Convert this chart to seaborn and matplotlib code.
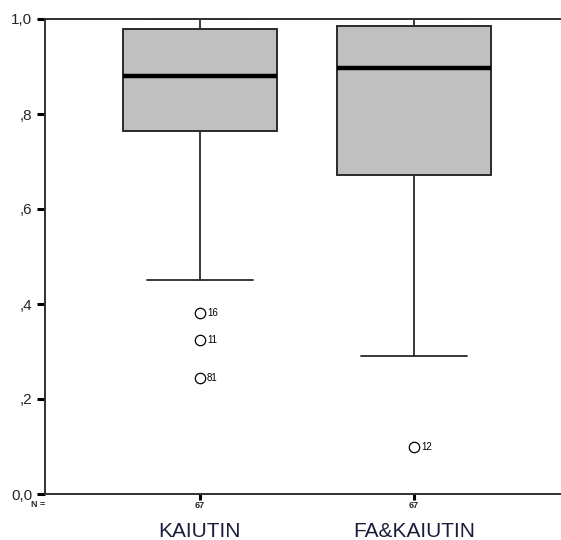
import seaborn as sns
import matplotlib.pyplot as plt
import matplotlib.transforms as mtransforms

# summary values
groups = ["KAIUTIN", "FA&KAIUTIN"]
n_cases = [67, 67]
whis_low = [0.451, 0.291]
q1 = [0.764, 0.672]
median = [0.880, 0.897]
q3 = [0.979, 0.985]
whis_high = [1.0, 1.0]
outliers = [[0.381, 0.324, 0.244], [0.099]]
outlier_ids = [["16", "11", "81"], ["12"]]

sns.set_theme(style="white")
plt.rcParams['font.family'] = ['Liberation Sans', 'DejaVu Sans']

fig = plt.figure(figsize=(5.61, 5.40), dpi=100)
ax = fig.add_axes([45 / 561, 1 - 494 / 540, 1 - 45 / 561, (494 - 19) / 540])

stats = []
for i in range(len(groups)):
    stats.append({"whislo": whis_low[i], "q1": q1[i], "med": median[i],
                  "q3": q3[i], "whishi": whis_high[i], "fliers": outliers[i]})

pos = [1, 2]
ax.bxp(stats, positions=pos, widths=0.72, patch_artist=True,
       capwidths=0.495,
       boxprops=dict(facecolor="#c0c0c0", edgecolor="#2a2a2a", linewidth=1.4),
       medianprops=dict(color="black", linewidth=3.2, solid_capstyle="butt"),
       whiskerprops=dict(color="#2a2a2a", linewidth=1.3),
       capprops=dict(color="#2a2a2a", linewidth=1.3),
       flierprops=dict(marker="o", markersize=7.5, markerfacecolor="white",
                       markeredgecolor="black", markeredgewidth=0.9))

# outlier case numbers
for i, (vals, ids) in enumerate(zip(outliers, outlier_ids)):
    for v, lab in zip(vals, ids):
        ax.annotate(lab, (pos[i], v), xytext=(5, 0), textcoords="offset points",
                    fontsize=7, va="center", ha="left", color="black")

ax.set_xlim(0.2757, 2.687)
ax.set_ylim(0, 1)
ax.set_yticks([0, 0.2, 0.4, 0.6, 0.8, 1.0])
ax.set_yticklabels(["0,0", ",2", ",4", ",6", ",8", "1,0"], fontsize=11)
ax.set_xticks(pos)
ax.set_xticklabels([str(n) for n in n_cases], fontsize=6.5, fontweight="bold")

ax.tick_params(axis="y", direction="out", length=6, width=2.2, color="black",
               pad=3, left=True)
ax.tick_params(axis="x", direction="out", length=4, width=2.2, color="black",
               pad=1, bottom=True)

for side in ["left", "top", "bottom"]:
    ax.spines[side].set_color("#303030")
    ax.spines[side].set_linewidth(1.4)
ax.spines["right"].set_visible(False)

trans = mtransforms.blended_transform_factory(ax.transData, ax.transAxes)
ax.text(0.0, -0.012, "N =", transform=ax.transAxes, fontsize=6.5,
        fontweight="bold", ha="right", va="top")
for p, g in zip(pos, groups):
    ax.text(p, -0.058, g, transform=trans, fontsize=15, ha="center", va="top",
            color="#1c1c3c")

plt.savefig("out.png", dpi=100)
